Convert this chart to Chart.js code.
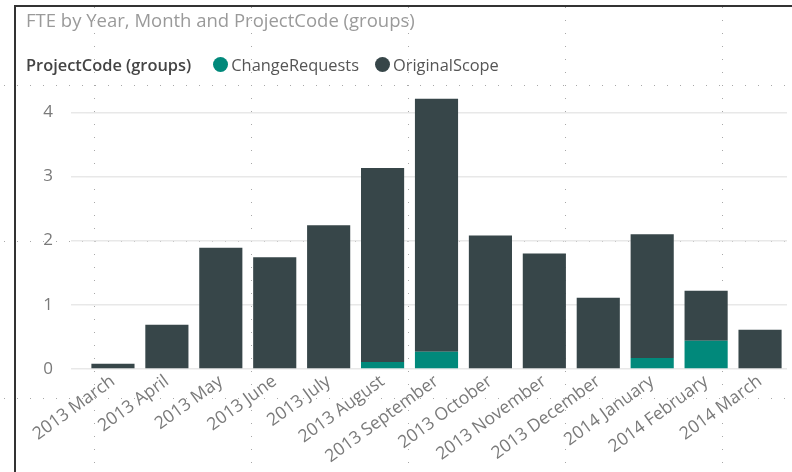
<!DOCTYPE html>
<html>
<head>
<meta charset="utf-8">
<script src="https://cdn.jsdelivr.net/npm/chart.js@4/dist/chart.umd.min.js"></script>
<style>
  body { margin: 0; background: #fff; font-family: 'Open Sans', sans-serif; }
  #wrap { position: relative; width: 792px; height: 472px; overflow: hidden; }
  #frame { position: absolute; left: 14px; top: 5px; right: -5px; bottom: -5px;
           border-left: 2px solid #333; border-top: 2px solid #333; pointer-events: none; }
  #title { position: absolute; left: 26px; top: 7px; font-size: 18.5px; color: #9a9a9a; white-space: nowrap; }
  #legend { position: absolute; left: 26px; top: 53px; font-size: 16.4px; color: #555;
            display: flex; align-items: center; white-space: nowrap; }
  #legend b { color: #444; font-weight: 600; margin-right: 22px; }
  .item { display: flex; align-items: center; margin-right: 16px; }
  .dot { width: 15px; height: 15px; border-radius: 50%; margin-right: 3px; }
</style>
</head>
<body>
<div id="wrap">
  <canvas id="chart" width="792" height="472"></canvas>
  <div id="frame"></div>
  <div id="title">FTE by Year, Month and ProjectCode (groups)</div>
  <div id="legend"><b>ProjectCode (groups)</b></div>
</div>
<script>
const months = ['2013 March', '2013 April', '2013 May', '2013 June', '2013 July', '2013 August',
  '2013 September', '2013 October', '2013 November', '2013 December', '2014 January',
  '2014 February', '2014 March'];
const changeRequests = [0, 0, 0, 0, 0, 0.11, 0.27, 0, 0, 0, 0.17, 0.44, 0.01];
const originalScope = [0.08, 0.69, 1.89, 1.74, 2.24, 3.02, 3.94, 2.08, 1.80, 1.11, 1.93, 0.78, 0.60];
const yTicks = [0, 1, 2, 3, 4];

const tealColor = '#01897b';
const darkColor = '#374649';
const labelColor = '#7a7a7a';

// faint dotted snap grid behind the visual
const dotGrid = {
  id: 'dotGrid',
  beforeDraw(chart) {
    const ctx = chart.ctx;
    ctx.save();
    ctx.fillStyle = '#a8a8a8';
    [85, 241, 398].forEach(y => {
      for (let x = 4; x < 792; x += 13) ctx.fillRect(x, y, 1, 1);
    });
    [94, 251, 408, 565, 722].forEach(x => {
      for (let y = 7; y < 472; y += 13) ctx.fillRect(x, y, 1, 1);
    });
    ctx.restore();
  }
};

const chart = new Chart(document.getElementById('chart'), {
  type: 'bar',
  data: {
    labels: months,
    datasets: [
      { label: 'ChangeRequests', data: changeRequests, backgroundColor: tealColor },
      { label: 'OriginalScope', data: originalScope, backgroundColor: darkColor }
    ]
  },
  options: {
    responsive: false,
    animation: false,
    layout: { padding: { top: 93, right: 5, left: 0, bottom: 0 } },
    datasets: { bar: { categoryPercentage: 0.8, barPercentage: 1.0 } },
    plugins: { legend: { display: false }, tooltip: { enabled: false } },
    scales: {
      x: {
        stacked: true,
        grid: { display: false, drawTicks: false },
        border: { display: false },
        ticks: {
          color: labelColor, font: { family: 'Open Sans', size: 17.5 },
          minRotation: 36, maxRotation: 36, padding: 2, autoSkip: false
        },
        afterFit(scale) { scale.height = 103; }
      },
      y: {
        stacked: true,
        min: 0, max: 4.3,
        grid: { color: '#e8e8e8', lineWidth: 1.5, tickLength: 15, tickColor: '#e8e8e8' },
        border: { display: false },
        afterBuildTicks(scale) { scale.ticks = yTicks.map(v => ({ value: v })); },
        ticks: { color: labelColor, font: { family: 'Open Sans', size: 17 }, padding: 18 },
        afterFit(scale) { scale.width = 86; }
      }
    }
  },
  plugins: [dotGrid]
});

const legend = document.getElementById('legend');
chart.data.datasets.forEach(ds => {
  const item = document.createElement('span');
  item.className = 'item';
  item.innerHTML = '<span class="dot" style="background:' + ds.backgroundColor + '"></span>' + ds.label;
  legend.appendChild(item);
});
</script>
</body>
</html>
